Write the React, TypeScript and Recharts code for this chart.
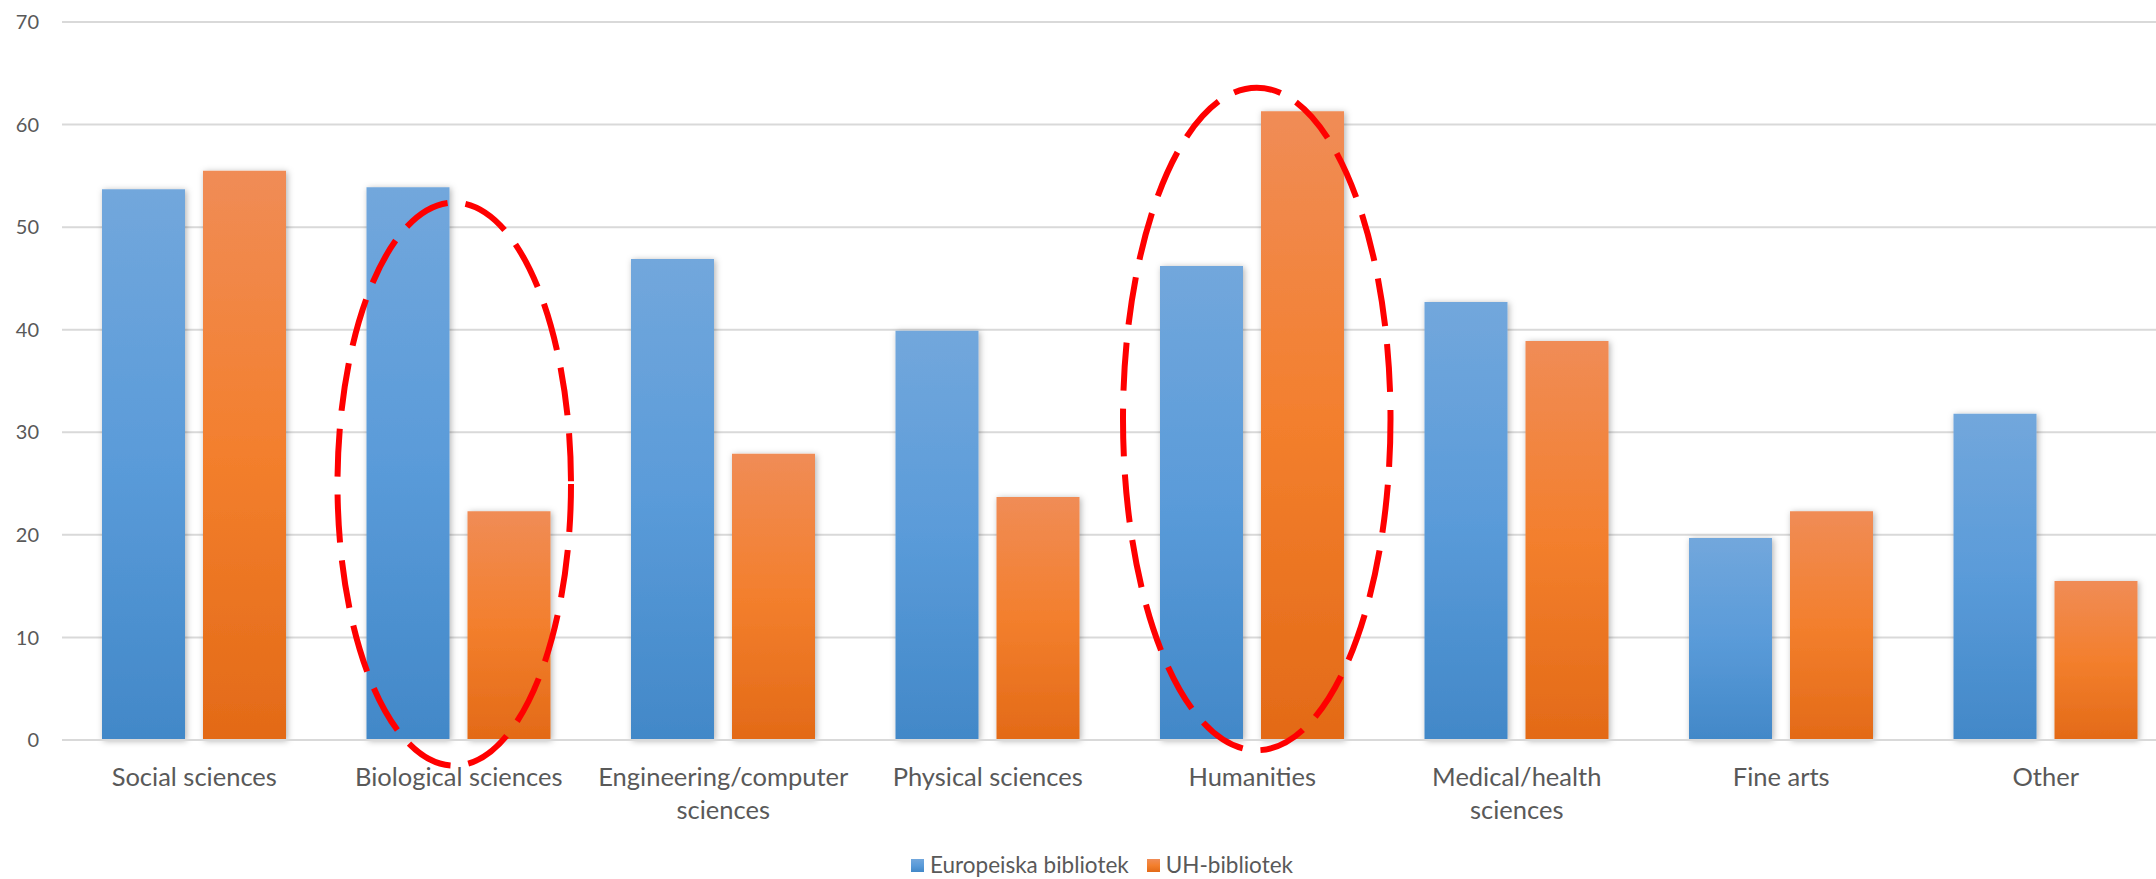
import React from 'react';
import { BarChart, Bar, XAxis, YAxis, CartesianGrid, Legend, ReferenceArea, Rectangle } from 'recharts';

const categories = [
  'Social sciences',
  'Biological sciences',
  'Engineering/computer sciences',
  'Physical sciences',
  'Humanities',
  'Medical/health sciences',
  'Fine arts',
  'Other',
];
const europeiska = [53.7, 53.9, 46.9, 39.9, 46.2, 42.7, 19.7, 31.8];
const uhBibliotek = [55.5, 22.3, 27.9, 23.7, 61.3, 38.9, 22.3, 15.5];
const yTicks = [0, 10, 20, 30, 40, 50, 60, 70];
const seriesNames = ['Europeiska bibliotek', 'UH-bibliotek'];

// the two circled categories, with the vertical span of each ring in data units
const ringCategories = ['Biological sciences', 'Humanities'];
const ringTop = [52.4, 63.6];
const ringBottom = [-2.5, -1.0];

const data = categories.map((c, i) => ({ category: c, eu: europeiska[i], uh: uhBibliotek[i] }));

const FONT = 'Lato, "Open Sans", sans-serif';
const TEXT = '#595959';
const gradIds = ['gradBlue', 'gradOrange'];

const ShadowBar = (props: any) => <Rectangle {...props} filter="url(#barShadow)" />;

// long labels go on two lines, broken at the last space
const splitLabel = (s: string) => {
  if (s.length <= 20) return [s];
  const k = s.lastIndexOf(' ');
  return [s.slice(0, k), s.slice(k + 1)];
};

const CategoryTick = ({ x, y, payload }: any) => {
  const lines = splitLabel(String(payload.value));
  return (
    <text x={x} y={y + 38} textAnchor="middle" fill={TEXT} fontSize={25.5} fontFamily={FONT}>
      {lines.map((l, i) => (
        <tspan key={i} x={x} dy={i === 0 ? 0 : 33}>
          {l}
        </tspan>
      ))}
    </text>
  );
};

const Ring = (props: any) => {
  const { x, y, width, height, padLeft = 0, padRight = 0 } = props;
  const x0 = x + padLeft;
  const x1 = x + width - padRight;
  return (
    <ellipse
      cx={(x0 + x1) / 2}
      cy={y + height / 2}
      rx={(x1 - x0) / 2}
      ry={height / 2}
      fill="none"
      stroke="#FF0000"
      strokeWidth={6}
      strokeDasharray="48 18"
    />
  );
};
const ringPads = [
  [11, 20],
  [3, -6],
];

const LegendContent = () => (
  <div
    style={{
      display: 'flex',
      justifyContent: 'center',
      alignItems: 'center',
      gap: 18,
      height: 28,
      lineHeight: '24px',
      fontFamily: FONT,
      fontSize: 22.5,
      color: TEXT,
      paddingLeft: 26,
    }}
  >
    {seriesNames.map((n, i) => (
      <span key={n} style={{ display: 'flex', alignItems: 'center' }}>
        <svg width={13} height={13} style={{ marginRight: 6 }}>
          <rect width={13} height={13} fill={`url(#${gradIds[i]})`} />
        </svg>
        {n}
      </span>
    ))}
  </div>
);

export default function App() {
  return (
    <div style={{ position: 'absolute', left: 0, top: 0, width: 2156, height: 879, background: '#fff', overflow: 'hidden' }}>
      <BarChart
        width={2156}
        height={879}
        data={data}
        barGap={18}
        margin={{ top: 22, right: -22, left: 0, bottom: 0 }}
      >
        <defs>
          <linearGradient id="gradBlue" x1="0" y1="0" x2="0" y2="1">
            <stop offset="0%" stopColor="#72A7DC" />
            <stop offset="50%" stopColor="#5A9BD9" />
            <stop offset="100%" stopColor="#4288C8" />
          </linearGradient>
          <linearGradient id="gradOrange" x1="0" y1="0" x2="0" y2="1">
            <stop offset="0%" stopColor="#F08C56" />
            <stop offset="50%" stopColor="#F37F2D" />
            <stop offset="100%" stopColor="#E36A17" />
          </linearGradient>
          <filter id="barShadow" x="-20%" y="-10%" width="140%" height="120%">
            <feDropShadow dx="1.5" dy="1" stdDeviation="3" floodColor="#000" floodOpacity="0.3" />
          </filter>
        </defs>
        <CartesianGrid vertical={false} stroke="#D9D9D9" strokeWidth={2} />
        <XAxis
          dataKey="category"
          interval={0}
          height={111}
          axisLine={{ stroke: '#D9D9D9', strokeWidth: 2 }}
          tickLine={false}
          tick={<CategoryTick />}
        />
        <YAxis
          domain={[0, 70]}
          ticks={yTicks}
          width={62}
          axisLine={false}
          tickLine={false}
          tickMargin={17}
          tick={{ fill: TEXT, fontSize: 20, fontFamily: FONT }}
        />
        <Legend verticalAlign="bottom" content={<LegendContent />} />
        <Bar dataKey="eu" name={seriesNames[0]} fill="url(#gradBlue)" barSize={83} shape={<ShadowBar />} isAnimationActive={false} />
        <Bar dataKey="uh" name={seriesNames[1]} fill="url(#gradOrange)" barSize={83} shape={<ShadowBar />} isAnimationActive={false} />
        {ringCategories.map((c, i) => (
          <ReferenceArea
            key={c}
            x1={c}
            x2={c}
            y1={ringBottom[i]}
            y2={ringTop[i]}
            ifOverflow="visible"
            zIndex={1000}
            shape={(p: any) => <Ring {...p} padLeft={ringPads[i][0]} padRight={ringPads[i][1]} />}
          />
        ))}
      </BarChart>
    </div>
  );
}
